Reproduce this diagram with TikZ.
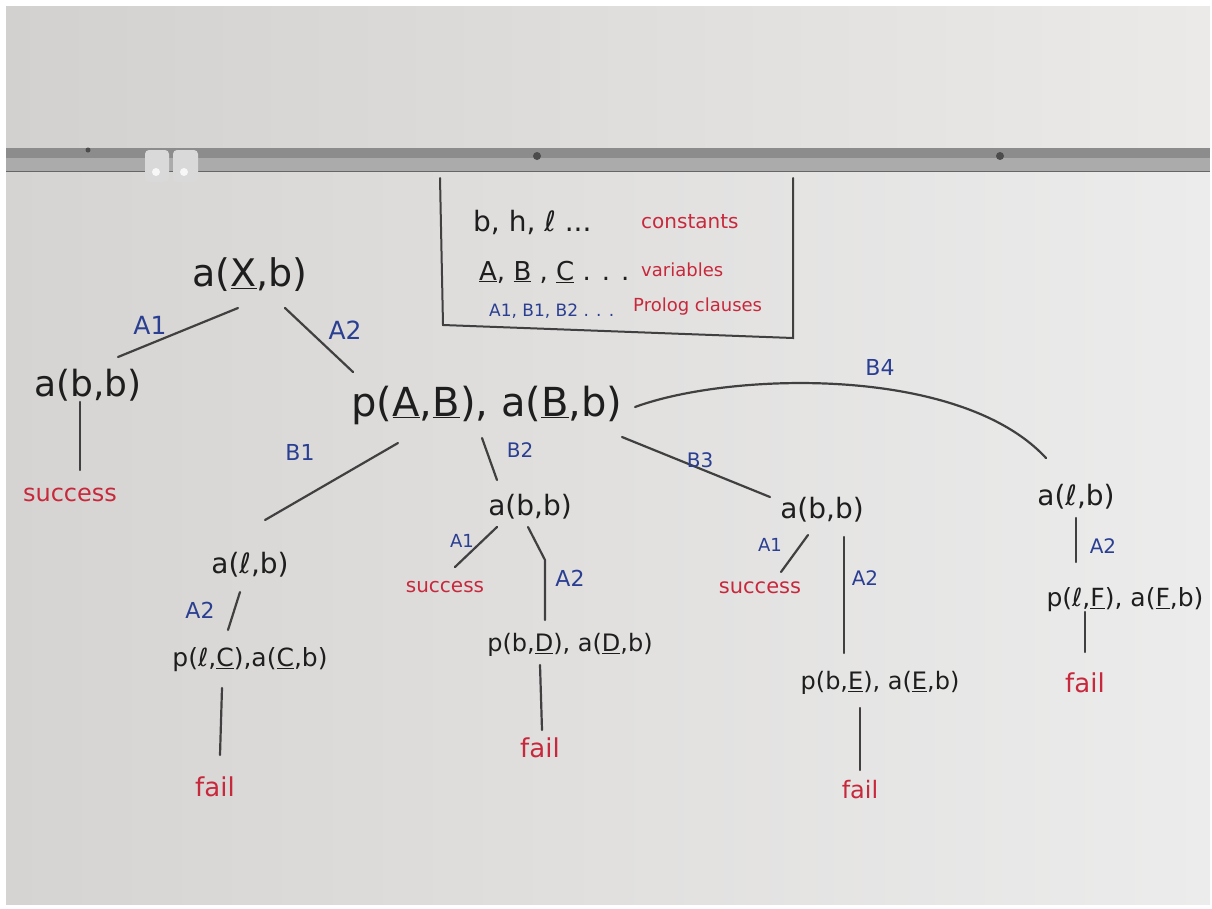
\documentclass[tikz,border=0pt]{standalone}
\usepackage{fontspec}
\setmainfont{DejaVu Sans}
\usetikzlibrary{calc}
\definecolor{ink}{HTML}{1E1E1E}
\definecolor{penblue}{HTML}{2B3F92}
\definecolor{penred}{HTML}{C8283C}
\definecolor{wall}{HTML}{DEDCDA}
\definecolor{boardL}{HTML}{D6D4D2}
\definecolor{boardR}{HTML}{ECECEC}
\definecolor{railD}{HTML}{8C8C8C}
\definecolor{railL}{HTML}{ABABAB}
\tikzset{
  term/.style={text=ink, inner sep=1pt, font=\fontsize{#1}{#1}\selectfont},
  lab/.style={text=penblue, inner sep=1pt, font=\fontsize{#1}{#1}\selectfont},
  res/.style={text=penred, inner sep=1pt, font=\fontsize{#1}{#1}\selectfont},
  edge/.style={draw=ink!85, line width=2.2pt, line cap=round},
}
\begin{document}
\begin{tikzpicture}[x=1pt,y=-1pt]
\useasboundingbox (0,0) rectangle (1212,908);
% photo background
\fill[white] (0,0) rectangle (1212,908);
\shade[left color=wall!95!black, right color=wall!60!white] (6,6) rectangle (1210,150);
\shade[left color=boardL, right color=boardR] (6,170) rectangle (1210,904);
\fill[railD] (6,148) rectangle (1210,158);
\fill[railL] (6,158) rectangle (1210,171);
\draw[black!60, line width=0.6pt] (6,171) -- (1210,171);
\fill[black!70] (537,156) circle (4);
\fill[black!70] (1000,156) circle (4);
\fill[black!70] (88,150) circle (2.5);
% clips
\fill[white!85!black, rounded corners=4pt] (145,150) rectangle (169,182);
\fill[white!85!black, rounded corners=4pt] (173,150) rectangle (198,182);
\fill[white!97!black] (156,172) circle (4);
\fill[white!97!black] (184,172) circle (4);

% legend box
\draw[edge, line width=2pt] (440,178) -- (443,325) -- (793,338) -- (793,178);
\node[term=28, anchor=west] (lc) at (472,222) {b, h, ℓ ...};
\node[res=20, anchor=west] (lct) at (640,222) {constants};
\node[term=26, anchor=west] (lv) at (478,272) {\underline{A}, \underline{B} , \underline{C} . . .};
\node[res=18, anchor=west] (lvt) at (640,270) {variables};
\node[lab=17, anchor=west] (lp) at (488,311) {A1, B1, B2 . . .};
\node[res=18, anchor=west] (lpt) at (632,307) {Prolog clauses};

% tree nodes
\node[term=38] (root) at (250,275) {a(\underline{X},b)};
\node[term=36] (ab1) at (88,385) {a(b,b)};
\node[res=24] (succ1) at (70,495) {success};
\node[term=40] (big) at (487,405) {p(\underline{A},\underline{B}), a(\underline{B},b)};
\node[term=28] (al1) at (250,565) {a(ℓ,b)};
\node[term=25] (pc) at (250,660) {p(ℓ,\underline{C}),a(\underline{C},b)};
\node[res=26] (fail1) at (215,787) {fail};
\node[term=28] (ab2) at (530,507) {a(b,b)};
\node[res=20] (succ2) at (445,587) {success};
\node[term=24] (pd) at (570,645) {p(b,\underline{D}), a(\underline{D},b)};
\node[res=26] (fail2) at (540,748) {fail};
\node[term=28] (ab3) at (822,510) {a(b,b)};
\node[res=21] (succ3) at (760,588) {success};
\node[term=24] (pe) at (880,683) {p(b,\underline{E}), a(\underline{E},b)};
\node[res=24] (fail3) at (860,790) {fail};
\node[term=28] (al2) at (1076,497) {a(ℓ,b)};
\node[term=25] (pf) at (1125,600) {p(ℓ,\underline{F}), a(\underline{F},b)};
\node[res=26] (fail4) at (1085,683) {fail};

% connectors
\draw[edge] ($(root)+(-12,33)$) -- ($(ab1)+(30,-28)$);
\draw[edge] ($(root)+(35,33)$) -- ($(big)+(-134,-33)$);
\draw[edge] ($(ab1)+(-8,17)$) -- ($(succ1)+(10,-25)$);
\draw[edge] ($(big)+(-89,38)$) -- ($(al1)+(15,-45)$);
\draw[edge] ($(big)+(-5,33)$) -- ($(ab2)+(-33,-27)$);
\draw[edge] ($(big)+(135,32)$) -- ($(ab3)+(-52,-13)$);
\draw[edge] ($(big)+(148,2)$) .. controls ($(big)+(243,-33)$) and ($(al2)+(-116,-132)$) .. ($(al2)+(-30,-39)$);
\draw[edge] ($(al1)+(-10,27)$) -- ($(pc)+(-22,-30)$);
\draw[edge] ($(pc)+(-28,28)$) -- ($(fail1)+(5,-32)$);
\draw[edge] ($(ab2)+(-33,20)$) -- ($(succ2)+(10,-20)$);
\draw[edge] ($(ab2)+(-2,20)$) -- ($(pd)+(-25,-85)$) -- ($(pd)+(-25,-25)$);
\draw[edge] ($(pd)+(-30,20)$) -- ($(fail2)+(2,-18)$);
\draw[edge] ($(ab3)+(-14,25)$) -- ($(succ3)+(21,-16)$);
\draw[edge] ($(ab3)+(22,27)$) -- ($(pe)+(-36,-30)$);
\draw[edge] ($(pe)+(-20,25)$) -- ($(fail3)+(0,-20)$);
\draw[edge] ($(al2)+(0,21)$) -- ($(pf)+(-49,-38)$);
\draw[edge] ($(pf)+(-40,12)$) -- ($(fail4)+(0,-31)$);

% clause labels
\node[lab=25] (lA1a) at (150,325) {A1};
\node[lab=25] (lA2a) at (345,330) {A2};
\node[lab=22] (lB1) at (300,452) {B1};
\node[lab=20] (lB2) at (520,450) {B2};
\node[lab=20] (lB3) at (700,460) {B3};
\node[lab=22] (lB4) at (880,367) {B4};
\node[lab=22] (lA2b) at (200,610) {A2};
\node[lab=18] (lA1c) at (462,541) {A1};
\node[lab=22] (lA2c) at (570,578) {A2};
\node[lab=18] (lA1d) at (770,545) {A1};
\node[lab=20] (lA2d) at (865,578) {A2};
\node[lab=20] (lA2e) at (1103,546) {A2};
\end{tikzpicture}
\end{document}
